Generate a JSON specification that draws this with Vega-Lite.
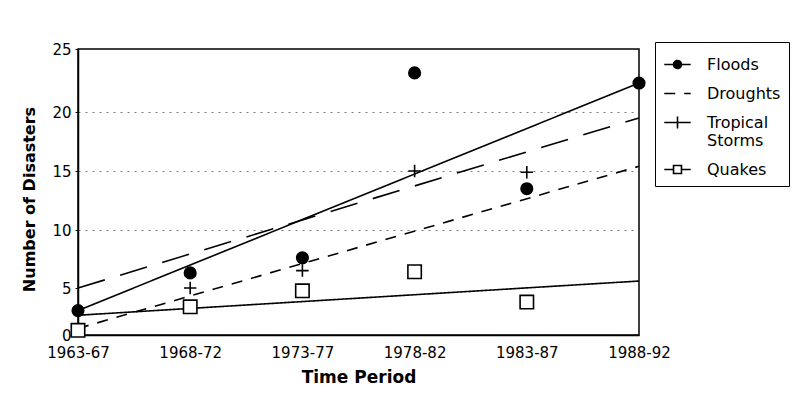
{
  "$schema": "https://vega.github.io/schema/vega-lite/v6.json",
  "width": 561,
  "height": 286,
  "autosize": {"type": "none"},
  "padding": {"left": 78, "top": 49, "right": 164, "bottom": 85},
  "background": "white",
  "config": {
    "font": "DejaVu Sans",
    "view": {"stroke": "black", "strokeWidth": 1.5}
  },
  "datasets": {
    "points": [
      {"period": "1963-67", "series": "Floods", "count": 2.6},
      {"period": "1968-72", "series": "Floods", "count": 6.3},
      {"period": "1973-77", "series": "Floods", "count": 7.6},
      {"period": "1978-82", "series": "Floods", "count": 23.1},
      {"period": "1983-87", "series": "Floods", "count": 13.5},
      {"period": "1988-92", "series": "Floods", "count": 22.3},
      {"period": "1968-72", "series": "Tropical Storms", "count": 5.0},
      {"period": "1973-77", "series": "Tropical Storms", "count": 6.5},
      {"period": "1978-82", "series": "Tropical Storms", "count": 15.0},
      {"period": "1983-87", "series": "Tropical Storms", "count": 14.9},
      {"period": "1963-67", "series": "Quakes", "count": 0.5},
      {"period": "1968-72", "series": "Quakes", "count": 3.0},
      {"period": "1973-77", "series": "Quakes", "count": 4.7},
      {"period": "1978-82", "series": "Quakes", "count": 6.4},
      {"period": "1983-87", "series": "Quakes", "count": 3.5}
    ],
    "trends": [
      {"period": "1963-67", "series": "Floods", "count": 2.6},
      {"period": "1988-92", "series": "Floods", "count": 22.3},
      {"period": "1963-67", "series": "Droughts", "count": 0.7},
      {"period": "1988-92", "series": "Droughts", "count": 15.4},
      {"period": "1963-67", "series": "Tropical Storms", "count": 5.0},
      {"period": "1988-92", "series": "Tropical Storms", "count": 19.5},
      {"period": "1963-67", "series": "Quakes", "count": 2.1},
      {"period": "1988-92", "series": "Quakes", "count": 5.6}
    ]
  },
  "encoding": {
    "x": {
      "field": "period",
      "type": "ordinal",
      "scale": {"type": "point", "padding": 0, "domain": ["1963-67", "1968-72", "1973-77", "1978-82", "1983-87", "1988-92"]},
      "axis": {
        "title": "Time Period",
        "labelAngle": 0,
        "labelFont": "DejaVu Sans",
        "labelFontSize": 15,
        "labelColor": "black",
        "labelPadding": 10,
        "ticks": false,
        "tickSize": 0,
        "domainColor": "black",
        "domainWidth": 1.5,
        "titleFont": "DejaVu Sans",
        "titleFontSize": 17,
        "titleFontWeight": "bold",
        "titleColor": "black",
        "titlePadding": 9,
        "grid": false
      }
    },
    "y": {
      "field": "count",
      "type": "quantitative",
      "scale": {"domain": [0, 5, 10, 15, 20, 25], "range": [286, 239, 181, 122, 63, 0], "nice": false, "zero": false},
      "axis": {
        "title": "Number of Disasters",
        "values": [0, 5, 10, 15, 20, 25],
        "labelFont": "DejaVu Sans",
        "labelFontSize": 15,
        "labelColor": "black",
        "labelPadding": 4,
        "tickSize": 3,
        "tickColor": "black",
        "domainColor": "black",
        "domainWidth": 1.5,
        "titleFont": "DejaVu Sans",
        "titleFontSize": 16,
        "titleFontWeight": "bold",
        "titleColor": "black",
        "titlePadding": 14,
        "titleY": 150,
        "grid": true,
        "gridColor": "#444444",
        "gridDash": [2, 5],
        "gridWidth": 1,
        "gridOpacity": {"condition": {"test": "datum.value >= 10 && datum.value <= 20", "value": 0.7}, "value": 0}
      }
    }
  },
  "layer": [
    {
      "data": {"name": "trends"},
      "mark": {"type": "line", "stroke": "black", "strokeWidth": 1.6},
      "encoding": {
        "detail": {"field": "series"},
        "strokeDash": {
          "field": "series",
          "type": "nominal",
          "scale": {
            "domain": ["Floods", "Droughts", "Tropical Storms", "Quakes"],
            "range": [[1, 0], [11, 9], [28, 16], [1, 0]]
          },
          "legend": {
            "title": null,
            "orient": "none",
            "legendX": 577,
            "legendY": -7,
            "padding": 8,
            "strokeColor": "black",
            "fillColor": "white",
            "symbolSize": 700,
            "symbolStrokeColor": "black",
            "symbolStrokeWidth": 1.6,
            "labelFont": "DejaVu Sans",
            "labelFontSize": 16,
            "labelColor": "black",
            "labelOffset": 15,
            "labelLineHeight": 16,
            "labelLimit": 200,
            "rowPadding": 6,
            "labelExpr": "datum.label === 'Tropical Storms' ? ['Tropical', 'Storms'] : datum.label",
            "encode": {
              "symbols": {
                "update": {
                  "shape": {"signal": "datum.value === 'Floods' ? 'M-1,0H1M-0.3,0A0.3,0.3 0 1,0 0.3,0A0.3,0.3 0 1,0 -0.3,0Z' : datum.value === 'Droughts' ? 'M-1,0H1' : datum.value === 'Tropical Storms' ? 'M-1,0H1M0,-0.45V0.45' : 'M-1,0H-0.3M0.3,0H1M-0.3,-0.3H0.3V0.3H-0.3Z'"},
                  "fill": {"signal": "datum.value === 'Floods' ? 'black' : 'white'"},
                  "stroke": {"value": "black"},
                  "strokeDash": {"signal": "datum.value === 'Droughts' ? [5, 4] : [1, 0]"}
                }
              }
            }
          }
        }
      }
    },
    {
      "data": {"name": "points"},
      "mark": {"type": "point", "filled": false, "stroke": "black", "strokeWidth": 1.6, "opacity": 1},
      "encoding": {
        "shape": {
          "field": "series",
          "type": "nominal",
          "scale": {
            "domain": ["Floods", "Tropical Storms", "Quakes"],
            "range": ["circle", "M-1,0H1M0,-1V1", "square"]
          },
          "legend": null
        },
        "fill": {
          "field": "series",
          "type": "nominal",
          "scale": {"domain": ["Floods", "Tropical Storms", "Quakes"], "range": ["black", "transparent", "white"]},
          "legend": null
        },
        "size": {
          "field": "series",
          "type": "nominal",
          "scale": {"domain": ["Floods", "Tropical Storms", "Quakes"], "range": [133, 180, 225]},
          "legend": null
        }
      }
    }
  ]
}
